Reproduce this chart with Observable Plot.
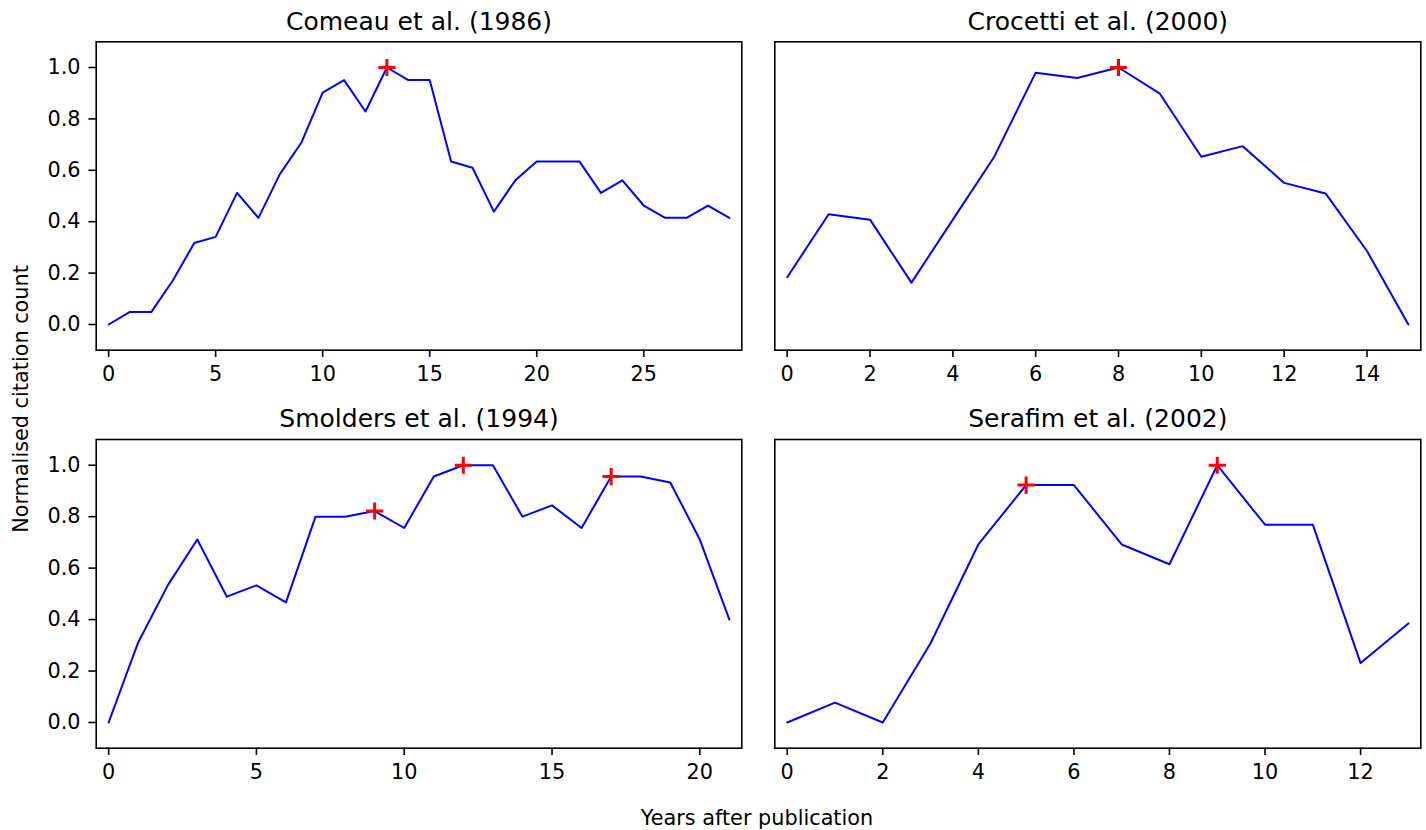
<!DOCTYPE html>
<html>
<head>
<meta charset="utf-8">
<script src="https://cdn.jsdelivr.net/npm/d3@7"></script>
<script src="https://cdn.jsdelivr.net/npm/@observablehq/plot@0.6"></script>
<style>
html, body { margin: 0; padding: 0; background: #fff; }
#fig { position: relative; width: 1426px; height: 830px; font-family: "DejaVu Sans", sans-serif; }
#fig > svg { position: absolute; }
</style>
</head>
<body>
<div id="fig"></div>
<script>
// ---- Data ----
const titles = ["Comeau et al. (1986)", "Crocetti et al. (2000)", "Smolders et al. (1994)", "Serafim et al. (2002)"];
const comeau = [0, 0.049, 0.049, 0.171, 0.317, 0.341, 0.512, 0.415, 0.585, 0.707,
                0.902, 0.951, 0.829, 1.0, 0.951, 0.951, 0.634, 0.610, 0.439, 0.561,
                0.634, 0.634, 0.634, 0.512, 0.561, 0.463, 0.415, 0.415, 0.463, 0.415];
const crocetti = [0.184, 0.429, 0.408, 0.163, 0.408, 0.653, 0.980, 0.959, 1.0, 0.898,
                  0.653, 0.694, 0.551, 0.510, 0.286, 0];
const smolders = [0, 0.311, 0.533, 0.711, 0.489, 0.533, 0.467, 0.8, 0.8, 0.822,
                  0.756, 0.956, 1.0, 1.0, 0.8, 0.844, 0.756, 0.956, 0.956, 0.933,
                  0.711, 0.4];
const serafim = [0, 0.077, 0, 0.308, 0.692, 0.923, 0.923, 0.692, 0.615, 1.0,
                 0.769, 0.769, 0.231, 0.385];
const comeauPeaks = [13];
const crocettiPeaks = [8];
const smoldersPeaks = [9, 12, 17];
const serafimPeaks = [5, 9];
const comeauTicks = [0, 5, 10, 15, 20, 25];
const crocettiTicks = [0, 2, 4, 6, 8, 10, 12, 14];
const smoldersTicks = [0, 5, 10, 15, 20];
const serafimTicks = [0, 2, 4, 6, 8, 10, 12];
const yTicks = [0, 0.2, 0.4, 0.6, 0.8, 1.0];
const xLabel = "Years after publication";
const yLabel = "Normalised citation count";

// ---- Layout ----
const panels = [
  {title: titles[0], values: comeau, peaks: comeauPeaks, ticks: comeauTicks, showY: true,
   left: 0, top: 0, width: 760, height: 400, mL: 95.7, mR: 18.7, mT: 41.3, mB: 50.3},
  {title: titles[1], values: crocetti, peaks: crocettiPeaks, ticks: crocettiTicks, showY: false,
   left: 760, top: 0, width: 666, height: 400, mL: 14.3, mR: 5.7, mT: 41.3, mB: 50.3},
  {title: titles[2], values: smolders, peaks: smoldersPeaks, ticks: smoldersTicks, showY: true,
   left: 0, top: 400, width: 760, height: 400, mL: 95.7, mR: 18.7, mT: 39, mB: 52.3},
  {title: titles[3], values: serafim, peaks: serafimPeaks, ticks: serafimTicks, showY: false,
   left: 760, top: 400, width: 666, height: 400, mL: 14.3, mR: 5.7, mT: 39, mB: 52.3}
];

const plusSymbol = {
  draw(context, size) {
    const r = Math.sqrt(size / Math.PI);
    context.moveTo(-r, 0); context.lineTo(r, 0);
    context.moveTo(0, -r); context.lineTo(0, r);
  }
};

const fig = document.getElementById("fig");

for (const p of panels) {
  const n = p.values.length - 1;
  const pts = p.values.map((v, i) => ({x: i, y: v}));
  const peakPts = p.peaks.map(i => ({x: i, y: p.values[i]}));
  const marks = [
    Plot.line(pts, {x: "x", y: "y", stroke: "#0000ff", strokeWidth: 2}),
    Plot.dot(peakPts, {x: "x", y: "y", symbol: plusSymbol, r: 8.6, fill: "none", stroke: "#ff0000", strokeWidth: 3}),
    Plot.frame({stroke: "#000", strokeWidth: 1.6}),
    Plot.axisX({ticks: p.ticks, tickFormat: d => String(d), tickSize: 7.3, tickPadding: 8.6,
                strokeWidth: 1.6, fontSize: 20.8, label: null}),
    Plot.text([p.title], {frameAnchor: "top", lineAnchor: "bottom", dy: -12.3, fontSize: 25, fill: "#000"})
  ];
  if (p.showY) {
    marks.push(Plot.axisY({ticks: yTicks, tickFormat: d3.format(".1f"), tickSize: 7.3, tickPadding: 8.4,
                           strokeWidth: 1.6, fontSize: 20.8, label: null}));
  }
  const svg = Plot.plot({
    width: p.width, height: p.height,
    marginLeft: p.mL, marginRight: p.mR, marginTop: p.mT, marginBottom: p.mB,
    style: {fontFamily: "DejaVu Sans", fontSize: "20.8px", color: "#000", background: "#fff", overflow: "visible"},
    x: {domain: [-0.02 * n, n * 1.02]},
    y: {domain: [-0.1, 1.1], axis: p.showY ? undefined : null},
    marks
  });
  svg.style.position = "absolute";
  svg.style.left = p.left + "px";
  svg.style.top = p.top + "px";
  fig.appendChild(svg);
}

// Figure-level axis labels
const ns = "http://www.w3.org/2000/svg";
const overlay = document.createElementNS(ns, "svg");
overlay.setAttribute("width", 1426);
overlay.setAttribute("height", 830);
overlay.style.position = "absolute";
overlay.style.left = "0px";
overlay.style.top = "0px";
overlay.style.pointerEvents = "none";
overlay.style.fontFamily = "DejaVu Sans";
const xl = document.createElementNS(ns, "text");
xl.setAttribute("x", 757); xl.setAttribute("y", 825);
xl.setAttribute("text-anchor", "middle"); xl.setAttribute("font-size", 20.8);
xl.textContent = xLabel;
const yl = document.createElementNS(ns, "text");
yl.setAttribute("transform", "translate(28,399) rotate(-90)");
yl.setAttribute("text-anchor", "middle"); yl.setAttribute("font-size", 20.8);
yl.textContent = yLabel;
overlay.appendChild(xl); overlay.appendChild(yl);
fig.appendChild(overlay);
</script>
</body>
</html>
